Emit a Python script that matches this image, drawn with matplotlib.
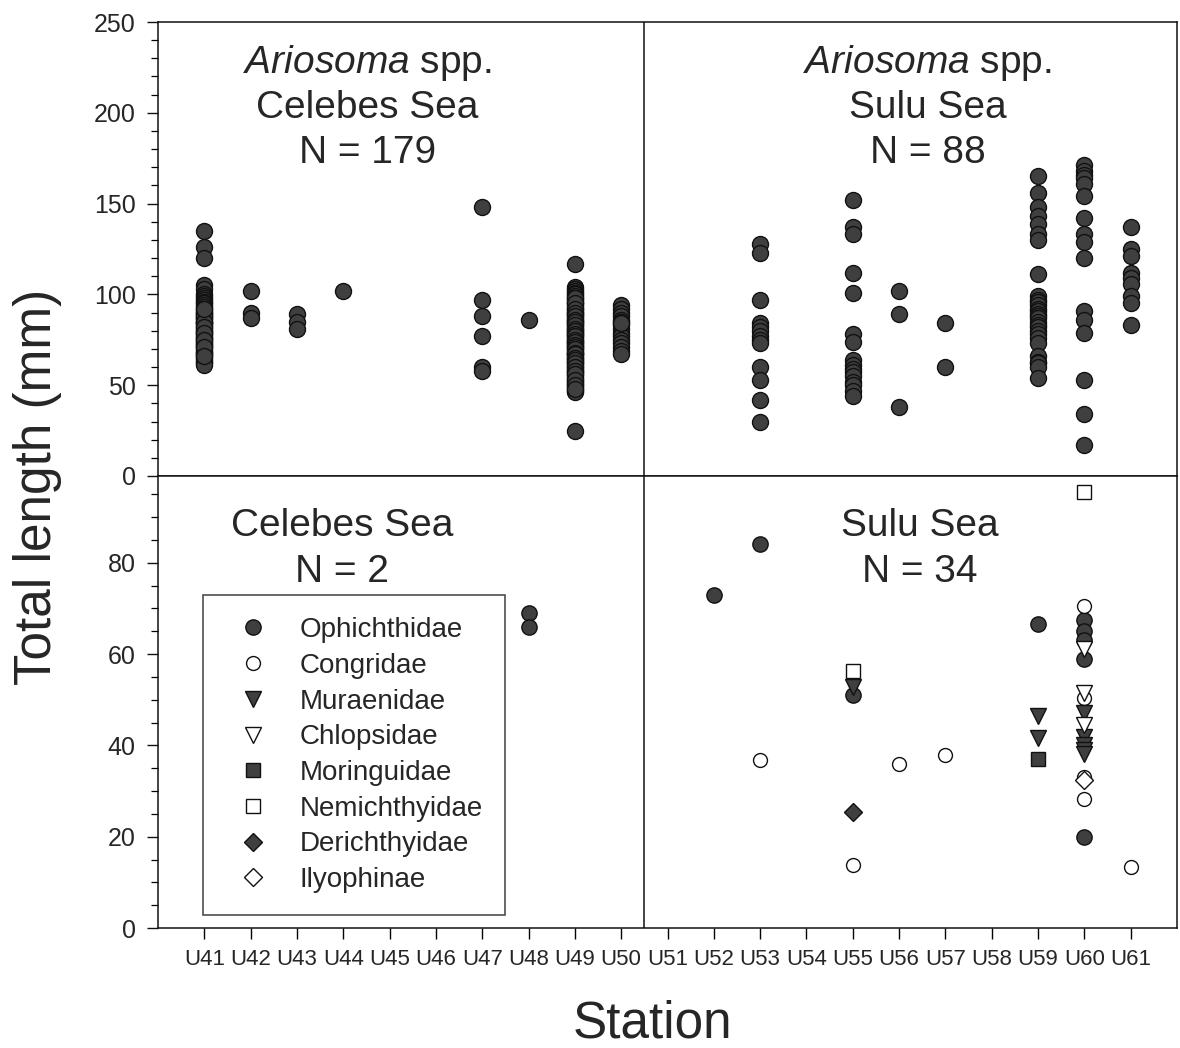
import matplotlib
matplotlib.use('Agg')
import matplotlib.pyplot as plt
from matplotlib.ticker import MultipleLocator

plt.rcParams['font.family'] = ['Liberation Sans', 'DejaVu Sans']
plt.rcParams['mathtext.fontset'] = 'custom'
plt.rcParams['mathtext.it'] = 'Liberation Sans:italic'
plt.rcParams['mathtext.rm'] = 'Liberation Sans'

# ---------------- data ----------------
stations = ['U41', 'U42', 'U43', 'U44', 'U45', 'U46', 'U47', 'U48', 'U49', 'U50', 'U51',
            'U52', 'U53', 'U54', 'U55', 'U56', 'U57', 'U58', 'U59', 'U60', 'U61']

# Ariosoma spp., Celebes Sea (N = 179)
celebes_ariosoma = {
    'U41': [135, 126, 120, 105, 103, 100, 99, 98, 97, 96, 95, 94, 93, 92, 91, 90, 90, 89, 88, 87,
            87, 86, 85, 84, 84, 83, 82, 81, 80, 80, 79, 78, 77, 76, 76, 75, 74, 73, 72, 72,
            71, 70, 69, 68, 68, 67, 66, 65, 64, 63, 62, 61, 88, 85, 82, 79, 75, 71, 66, 92],
    'U42': [102, 90, 87],
    'U43': [89, 85, 81],
    'U44': [102],
    'U47': [148, 97, 88, 77, 60, 58],
    'U48': [86],
    'U49': [117, 25, 104, 103, 102, 101, 100, 99, 98, 97, 96, 95, 94, 93, 92, 91, 90, 89, 88, 87,
            86, 85, 84, 83, 82, 81, 80, 79, 78, 77, 76, 75, 74, 73, 72, 71, 70, 69, 68, 67,
            66, 65, 64, 63, 62, 61, 60, 59, 58, 57, 56, 55, 54, 53, 52, 51, 50, 49, 48, 47,
            46, 98, 95, 92, 90, 88, 86, 85, 83, 81, 80, 78, 77, 75, 74, 72, 71, 70, 68, 67,
            65, 64, 62, 60, 58, 56, 53, 50, 48],
    'U50': [94, 92, 90, 88, 86, 85, 83, 81, 79, 77, 75, 73, 71, 69, 67, 84],
}

# Ariosoma spp., Sulu Sea (N = 88)
sulu_ariosoma = {
    'U53': [128, 123, 97, 84, 82, 80, 77, 75, 73, 60, 53, 42, 30],
    'U55': [152, 137, 133, 112, 101, 78, 74, 64, 61, 59, 57, 55, 52, 50, 47, 44],
    'U56': [102, 89, 38],
    'U57': [84, 60],
    'U59': [165, 156, 148, 143, 139, 133, 130, 111, 99, 97, 96, 94, 92, 91, 89, 88, 87, 85,
            83, 82, 80, 78, 76, 73, 66, 63, 62, 60, 54],
    'U60': [171, 168, 166, 164, 161, 154, 142, 133, 129, 120, 91, 86, 79, 53, 34, 17],
    'U61': [137, 125, 121, 112, 109, 106, 99, 95, 83],
}

families = ['Ophichthidae', 'Congridae', 'Muraenidae', 'Chlopsidae',
            'Moringuidae', 'Nemichthyidae', 'Derichthyidae', 'Ilyophinae']

# Other eels, Celebes Sea (N = 2)
celebes_oph_st = ['U48', 'U48']
celebes_oph_tl = [69, 66]

# Other eels, Sulu Sea (N = 34)
sulu_st = {
    'Ophichthidae': ['U52', 'U53', 'U55', 'U59', 'U60', 'U60', 'U60', 'U60', 'U60'],
    'Congridae': ['U53', 'U55', 'U56', 'U57', 'U60', 'U60', 'U60', 'U60', 'U61'],
    'Muraenidae': ['U55', 'U59', 'U59', 'U60', 'U60', 'U60', 'U60', 'U60'],
    'Chlopsidae': ['U60', 'U60', 'U60'],
    'Moringuidae': ['U59'],
    'Nemichthyidae': ['U55', 'U60'],
    'Derichthyidae': ['U55'],
    'Ilyophinae': ['U60'],
}
sulu_tl = {
    'Ophichthidae': [73, 84, 51, 66.5, 67.5, 65, 63, 59, 20],
    'Congridae': [36.7, 13.8, 36, 38, 70.5, 50.3, 33, 28.3, 13.4],
    'Muraenidae': [52.8, 46.5, 41.7, 47.2, 41.8, 40, 39, 38.2],
    'Chlopsidae': [61, 51.5, 44.4],
    'Moringuidae': [37.1],
    'Nemichthyidae': [56.2, 95.5],
    'Derichthyidae': [25.4],
    'Ilyophinae': [32.4],
}

# ---------------- styles ----------------
DARK = '#3f3f3f'
TXT = '#262626'
styles = {
    'Ophichthidae': dict(marker='o', mfc=DARK, ms=11),
    'Congridae': dict(marker='o', mfc='white', ms=10),
    'Muraenidae': dict(marker='v', mfc=DARK, ms=11),
    'Chlopsidae': dict(marker='v', mfc='white', ms=11),
    'Moringuidae': dict(marker='s', mfc=DARK, ms=9.5),
    'Nemichthyidae': dict(marker='s', mfc='white', ms=9.5),
    'Derichthyidae': dict(marker='D', mfc=DARK, ms=9),
    'Ilyophinae': dict(marker='D', mfc='white', ms=9),
}


def pos(st):
    return stations.index(st) + 1


W, H = 1180, 1048
fig = plt.figure(figsize=(W / 100, H / 100), dpi=100)
L, R = 158 / W, 1177 / W
T, M, B = 1 - 22 / H, 1 - 476 / H, 1 - 928 / H
ax_top = fig.add_axes([L, M, R - L, T - M])
ax_bot = fig.add_axes([L, B, R - L, M - B])

for ax in (ax_top, ax_bot):
    ax.set_xlim(0, 22)
    for sp in ax.spines.values():
        sp.set_linewidth(1.1)
        sp.set_color('#111111')
    ax.axvline(10.5, color='#111111', lw=1.1)
    ax.tick_params(axis='y', which='major', direction='out', length=8, width=1,
                   labelsize=18, pad=8, colors='#111111')
    ax.tick_params(axis='y', which='minor', direction='out', length=5, width=0.9)
    ax.tick_params(axis='y', labelcolor=TXT)

# top panel
for data in (celebes_ariosoma, sulu_ariosoma):
    for st, vals in data.items():
        ax_top.plot([pos(st)] * len(vals), vals, linestyle='none', marker='o',
                    mfc=DARK, mec='#111111', mew=1, ms=11.5)
ax_top.set_ylim(0, 250)
ax_top.yaxis.set_major_locator(MultipleLocator(50))
ax_top.yaxis.set_minor_locator(MultipleLocator(10))
ax_top.set_xticks(range(1, 22))
ax_top.tick_params(axis='x', which='major', bottom=True, top=False, direction='out',
                   length=6, width=1, labelbottom=False)

# bottom panel
ax_bot.plot([pos(s) for s in celebes_oph_st], celebes_oph_tl, linestyle='none',
            mec='#111111', mew=1, **styles['Ophichthidae'])
handles = []
for fam in families:
    h, = ax_bot.plot([pos(s) for s in sulu_st[fam]], sulu_tl[fam], linestyle='none',
                     mec='#111111', mew=1, label=fam, **styles[fam])
    handles.append(h)
ax_bot.set_ylim(0, 99)
ax_bot.yaxis.set_major_locator(MultipleLocator(20))
ax_bot.yaxis.set_minor_locator(MultipleLocator(5))
ax_bot.set_xticks(range(1, 22))
ax_bot.set_xticklabels(stations, family=['Liberation Sans Narrow', 'Liberation Sans'],
                       fontsize=16, color=TXT)
ax_bot.tick_params(axis='x', which='major', bottom=True, top=False, direction='out',
                   length=8, width=1, pad=7)

leg = ax_bot.legend(handles=handles, loc='upper left', bbox_to_anchor=(0.0442, 0.737),
                    borderaxespad=0, frameon=True, fancybox=False, edgecolor='#111111',
                    fontsize=20, labelspacing=0.35, handlelength=2.0, handletextpad=0.68,
                    borderpad=0.8, labelcolor=TXT)
leg.get_frame().set_linewidth(1.1)

# panel texts
tk = dict(ha='center', va='baseline', fontsize=28, color=TXT)
ax_top.text(4.52, 222, r'$\mathit{Ariosoma}$ spp.', **tk)
ax_top.text(4.52, 197, 'Celebes Sea', **tk)
ax_top.text(4.52, 172.4, 'N = 179', **tk)
ax_top.text(16.62, 222, r'$\mathit{Ariosoma}$ spp.', **tk)
ax_top.text(16.62, 197, 'Sulu Sea', **tk)
ax_top.text(16.62, 172.4, 'N = 88', **tk)
ax_bot.text(3.98, 85.9, 'Celebes Sea', **tk)
ax_bot.text(3.98, 75.8, 'N = 2', **tk)
ax_bot.text(16.45, 85.9, 'Sulu Sea', **tk)
ax_bot.text(16.45, 75.8, 'N = 34', **tk)

# axis titles
fig.text(38 / W, 1 - 487 / H, 'Total length (mm)', rotation=90, ha='center', va='center',
         fontsize=37, color=TXT)
fig.text(652 / W, 1 - 1037 / H, 'Station', ha='center', va='baseline', fontsize=37, color=TXT)

fig.savefig('out.png', dpi=100)
